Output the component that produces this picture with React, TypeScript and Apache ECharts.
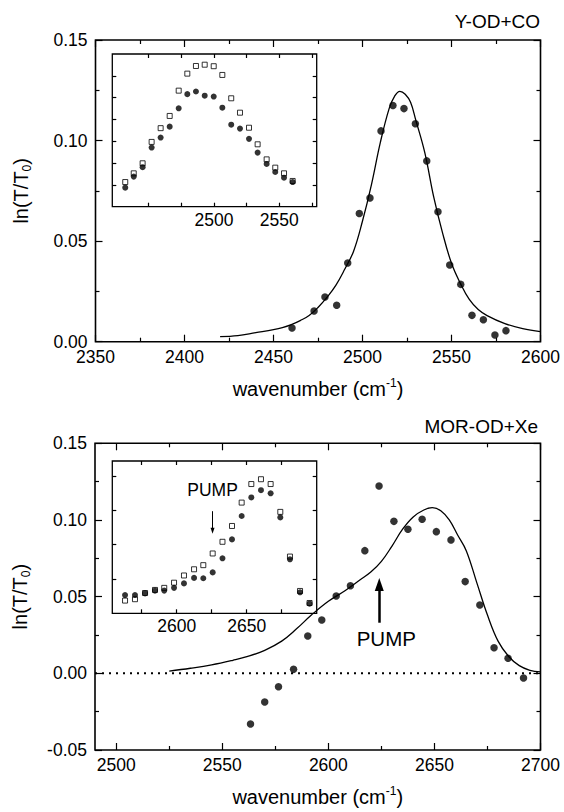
import React, { useEffect, useRef } from "react";
import * as echarts from "echarts";

// ---------- Top panel: Y-OD+CO ----------
const topWavenumbers = [2460.4, 2472.8, 2478.9, 2485.5, 2491.7, 2498.2, 2504.2, 2510.4, 2517.1, 2523.3, 2529.7, 2536.1, 2542.4, 2549.0, 2555.2, 2561.5, 2567.9, 2574.4, 2580.6];
const topValues = [0.0068, 0.0153, 0.0222, 0.0181, 0.0391, 0.0637, 0.0715, 0.1048, 0.1174, 0.1159, 0.1084, 0.0899, 0.0646, 0.0381, 0.0285, 0.0131, 0.0109, 0.0033, 0.0055];
const topFitWavenumbers = [2420, 2430, 2440, 2450, 2455, 2460, 2465, 2470, 2475, 2480, 2485, 2490, 2495, 2500, 2505, 2510, 2515, 2518, 2521, 2524, 2527, 2530, 2535, 2540, 2545, 2550, 2555, 2560, 2565, 2570, 2580, 2590, 2600];
const topFitValues = [0.0025, 0.003, 0.0045, 0.006, 0.007, 0.0085, 0.0105, 0.013, 0.017, 0.022, 0.028, 0.036, 0.045, 0.06, 0.078, 0.099, 0.116, 0.122, 0.1245, 0.123, 0.119, 0.11, 0.094, 0.072, 0.054, 0.039, 0.029, 0.021, 0.016, 0.013, 0.009, 0.0065, 0.005];

// top inset (open squares / filled circles)
const topInsetWavenumbers = [2432.1, 2438.6, 2445.4, 2452.3, 2459.2, 2466.1, 2473.0, 2479.6, 2486.2, 2492.9, 2499.8, 2506.4, 2513.2, 2519.9, 2526.8, 2533.4, 2540.3, 2546.9, 2553.6, 2560.2];
const topInsetCircles = [0.87, 1.38, 1.81, 2.71, 3.17, 3.67, 4.51, 5.16, 5.28, 5.09, 5.05, 4.54, 3.76, 3.58, 3.11, 2.48, 1.96, 1.59, 1.33, 1.13];
const topInsetSquares = [1.13, 1.53, 1.99, 2.97, 3.6, 4.16, 5.32, 6.1, 6.45, 6.51, 6.44, 6.04, 4.97, 4.31, 3.62, 2.86, 2.17, 1.79, 1.53, 1.18];

// ---------- Bottom panel: MOR-OD+Xe ----------
const bottomWavenumbers = [2563.3, 2570.0, 2576.5, 2583.6, 2590.3, 2596.9, 2603.7, 2610.4, 2617.2, 2623.9, 2630.9, 2637.5, 2644.2, 2650.9, 2657.8, 2664.5, 2671.4, 2678.1, 2684.7, 2692.0];
const bottomValues = [-0.0331, -0.0187, -0.0087, 0.0026, 0.0243, 0.0348, 0.0504, 0.0571, 0.08, 0.1222, 0.0991, 0.0939, 0.1005, 0.0924, 0.087, 0.0598, 0.0446, 0.0167, 0.0098, -0.003];
const bottomFitWavenumbers = [2525, 2535, 2545, 2555, 2562, 2570, 2578, 2585, 2592, 2600, 2608, 2615, 2620, 2625, 2630, 2635, 2640, 2645, 2649, 2653, 2657, 2661, 2665, 2670, 2675, 2680, 2685, 2690, 2695, 2700];
const bottomFitValues = [0.0015, 0.0033, 0.0055, 0.0085, 0.011, 0.015, 0.021, 0.029, 0.038, 0.047, 0.054, 0.061, 0.066, 0.073, 0.083, 0.094, 0.102, 0.1065, 0.108, 0.106, 0.1, 0.09, 0.08, 0.059, 0.038, 0.021, 0.011, 0.005, 0.002, 0.001];
const zeroLineWavenumbers = [2490, 2700];
const zeroLineValues = [0, 0];
const pumpWavenumber = 2624;
const pumpArrowFrom = 0.033;
const pumpArrowTo = 0.058;

// bottom inset
const bottomInsetWavenumbers = [2563.1, 2570.2, 2577.4, 2584.5, 2591.1, 2598.1, 2605.2, 2612.4, 2619.0, 2625.7, 2632.7, 2639.5, 2646.4, 2653.3, 2660.2, 2667.1, 2674.0, 2680.9, 2688.1, 2694.9];
const bottomInsetCircles = [0.53, 0.53, 0.58, 0.66, 0.66, 0.74, 0.87, 1.03, 1.02, 1.19, 1.6, 2.15, 2.83, 3.37, 3.58, 3.49, 2.79, 1.57, 0.61, 0.28];
const bottomInsetSquares = [0.37, 0.41, 0.59, 0.68, 0.74, 0.89, 1.1, 1.28, 1.4, 1.74, 2.08, 2.54, 3.22, 3.76, 3.9, 3.76, 2.95, 1.65, 0.65, 0.3];
const insetPumpWavenumber = 2625.6;
const insetPumpFrom = 2.97;
const insetPumpTo = 2.4;

// ---------- ticks & labels ----------
const topXMajor = [2350, 2400, 2450, 2500, 2550, 2600];
const topXMinor = [2375, 2425, 2475, 2525, 2575];
const topYMajor = [0, 0.05, 0.1, 0.15];
const topYMinor = [0.025, 0.075, 0.125];
const topInsetXTicks = [2450, 2475, 2500, 2525, 2550, 2575];
const topInsetXLabels = [2500, 2550];
const topInsetYTicks = [1, 2, 3, 4, 5, 6];

const bottomXMajor = [2500, 2550, 2600, 2650, 2700];
const bottomXMinor = [2525, 2575, 2625, 2675];
const bottomYMajor = [-0.05, 0, 0.05, 0.1, 0.15];
const bottomYMinor = [-0.025, 0.025, 0.075, 0.125];
const bottomInsetXTicks = [2575, 2600, 2625, 2650, 2675];
const bottomInsetXLabels = [2600, 2650];
const bottomInsetYTicks = [1, 2, 3, 4];

const FONT = "'Liberation Sans', Arial, Helvetica, sans-serif";
const BLACK = "#000";

const zip = (xs: number[], ys: number[]) => xs.map((x, i) => [x, ys[i]]);

type SideOpts = {
  gridIndex: number;
  position: string;
  min: number;
  max: number;
  major: number[];
  minor: number[];
  majorLen: number;
  minorLen: number;
  labels?: number[];
  fmt?: (v: number) => string;
  margin?: number;
  fontSize?: number;
  lineHeight?: number;
  extra?: any;
};

function sideAxes(o: SideOpts) {
  const tickLine = { color: BLACK, width: 1.2 };
  const base = {
    type: "value",
    gridIndex: o.gridIndex,
    position: o.position,
    min: o.min,
    max: o.max,
    axisLine: { show: false, onZero: false },
    splitLine: { show: false },
    axisPointer: { show: false },
  };
  const out: any[] = [
    {
      ...base,
      axisTick: { show: true, inside: true, length: o.majorLen, customValues: o.major, lineStyle: tickLine },
      axisLabel: o.labels
        ? {
            show: true,
            customValues: o.labels,
            formatter: o.fmt,
            margin: o.margin,
            fontSize: o.fontSize,
            lineHeight: o.lineHeight,
            fontFamily: FONT,
            color: BLACK,
          }
        : { show: false },
      ...(o.extra || {}),
    },
  ];
  if (o.minor.length) {
    out.push({
      ...base,
      axisTick: { show: true, inside: true, length: o.minorLen, customValues: o.minor, lineStyle: tickLine },
      axisLabel: { show: false },
    });
  }
  return out;
}

const nameStyle = {
  fontSize: 20,
  fontFamily: FONT,
  color: BLACK,
  lineHeight: 24,
  rich: {
    sup: { fontSize: 12, lineHeight: 12, verticalAlign: "top", fontFamily: FONT, color: BLACK },
    sub: { fontSize: 12, lineHeight: 12, verticalAlign: "bottom", fontFamily: FONT, color: BLACK },
  },
};

function buildOption() {
  const xAxis: any[] = [];
  const yAxis: any[] = [];
  const addX = (o: SideOpts) => {
    const i = xAxis.length;
    xAxis.push(...sideAxes(o));
    return i;
  };
  const addY = (o: SideOpts) => {
    const i = yAxis.length;
    yAxis.push(...sideAxes(o));
    return i;
  };
  const fmtX = (v: number) => String(v);
  const fmtY = (v: number) => v.toFixed(2);
  const xName = {
    name: "wavenumber (cm{sup|-1})",
    nameLocation: "middle",
    nameGap: 35,
    nameTextStyle: nameStyle,
  };
  const yName = {
    name: "ln(T/T{sub|0})",
    nameLocation: "middle",
    nameGap: 63,
    nameRotate: 90,
    nameTextStyle: nameStyle,
  };

  // grid 0: top main
  const tX = addX({ gridIndex: 0, position: "bottom", min: 2350, max: 2600, major: topXMajor, minor: topXMinor, majorLen: 7, minorLen: 4, labels: topXMajor, fmt: fmtX, margin: 7, fontSize: 17.5, lineHeight: 16, extra: xName });
  addX({ gridIndex: 0, position: "top", min: 2350, max: 2600, major: topXMajor, minor: topXMinor, majorLen: 7, minorLen: 4 });
  const tY = addY({ gridIndex: 0, position: "left", min: 0, max: 0.15, major: topYMajor, minor: topYMinor, majorLen: 7, minorLen: 4, labels: topYMajor, fmt: fmtY, margin: 8, fontSize: 17.5, lineHeight: 12, extra: yName });
  addY({ gridIndex: 0, position: "right", min: 0, max: 0.15, major: topYMajor, minor: topYMinor, majorLen: 7, minorLen: 4 });

  // grid 1: top inset
  const tiX = addX({ gridIndex: 1, position: "bottom", min: 2422.2, max: 2578.6, major: topInsetXTicks, minor: [], majorLen: 4, minorLen: 0, labels: topInsetXLabels, fmt: fmtX, margin: 4, fontSize: 17.5 });
  addX({ gridIndex: 1, position: "top", min: 2422.2, max: 2578.6, major: topInsetXTicks, minor: [], majorLen: 4, minorLen: 0 });
  const tiY = addY({ gridIndex: 1, position: "left", min: 0, max: 7, major: topInsetYTicks, minor: [], majorLen: 4, minorLen: 0 });
  addY({ gridIndex: 1, position: "right", min: 0, max: 7, major: topInsetYTicks, minor: [], majorLen: 4, minorLen: 0 });

  // grid 2: bottom main
  const bX = addX({ gridIndex: 2, position: "bottom", min: 2490, max: 2700, major: bottomXMajor, minor: bottomXMinor, majorLen: 7, minorLen: 4, labels: bottomXMajor, fmt: fmtX, margin: 7, fontSize: 17.5, lineHeight: 16, extra: xName });
  addX({ gridIndex: 2, position: "top", min: 2490, max: 2700, major: bottomXMajor, minor: bottomXMinor, majorLen: 7, minorLen: 4 });
  const bY = addY({ gridIndex: 2, position: "left", min: -0.05, max: 0.15, major: bottomYMajor, minor: bottomYMinor, majorLen: 7, minorLen: 4, labels: bottomYMajor, fmt: fmtY, margin: 8, fontSize: 17.5, lineHeight: 12, extra: yName });
  addY({ gridIndex: 2, position: "right", min: -0.05, max: 0.15, major: bottomYMajor, minor: bottomYMinor, majorLen: 7, minorLen: 4 });

  // grid 3: bottom inset
  const biX = addX({ gridIndex: 3, position: "bottom", min: 2554, max: 2700, major: bottomInsetXTicks, minor: [], majorLen: 4, minorLen: 0, labels: bottomInsetXLabels, fmt: fmtX, margin: 4, fontSize: 17.5 });
  addX({ gridIndex: 3, position: "top", min: 2554, max: 2700, major: bottomInsetXTicks, minor: [], majorLen: 4, minorLen: 0 });
  const biY = addY({ gridIndex: 3, position: "left", min: 0, max: 4.43, major: bottomInsetYTicks, minor: [], majorLen: 4, minorLen: 0 });
  addY({ gridIndex: 3, position: "right", min: 0, max: 4.43, major: bottomInsetYTicks, minor: [], majorLen: 4, minorLen: 0 });

  const gridBase = { show: true, borderColor: BLACK, containLabel: false };

  const circle = (size: number) => ({ type: "scatter", symbol: "circle", symbolSize: size, itemStyle: { color: BLACK }, silent: true });
  const square = (size: number) => ({ type: "scatter", symbol: "rect", symbolSize: size, itemStyle: { color: "#fff", borderColor: BLACK, borderWidth: 1 }, silent: true });
  const fitLine = { type: "line", symbol: "none", showSymbol: false, smooth: 0.4, lineStyle: { color: BLACK, width: 1.3 }, silent: true };

  return {
    animation: false,
    backgroundColor: "#fff",
    textStyle: { fontFamily: FONT },
    grid: [
      { ...gridBase, left: 95.5, top: 40, width: 445, height: 301.7, borderWidth: 1.6 },
      { ...gridBase, left: 112.3, top: 54, width: 204.4, height: 152.7, borderWidth: 1.3, backgroundColor: "#fff" },
      { ...gridBase, left: 95, top: 443.3, width: 445.5, height: 306.7, borderWidth: 1.6 },
      { ...gridBase, left: 112.3, top: 461, width: 204.4, height: 152.3, borderWidth: 1.3, backgroundColor: "#fff" },
    ],
    xAxis,
    yAxis,
    graphic: [
      { type: "text", right: 24, top: 12, style: { text: "Y-OD+CO", font: `19px ${FONT}`, fill: BLACK } },
      { type: "text", right: 26, top: 417, style: { text: "MOR-OD+Xe", font: `19px ${FONT}`, fill: BLACK } },
    ],
    series: [
      { ...fitLine, xAxisIndex: tX, yAxisIndex: tY, data: zip(topFitWavenumbers, topFitValues) },
      { ...circle(7.5), xAxisIndex: tX, yAxisIndex: tY, data: zip(topWavenumbers, topValues) },
      { ...square(5), xAxisIndex: tiX, yAxisIndex: tiY, data: zip(topInsetWavenumbers, topInsetSquares) },
      { ...circle(6), xAxisIndex: tiX, yAxisIndex: tiY, data: zip(topInsetWavenumbers, topInsetCircles) },
      {
        type: "line",
        symbol: "none",
        showSymbol: false,
        silent: true,
        xAxisIndex: bX,
        yAxisIndex: bY,
        lineStyle: { color: BLACK, width: 2, type: [2, 5] },
        data: zip(zeroLineWavenumbers, zeroLineValues),
      },
      { ...fitLine, xAxisIndex: bX, yAxisIndex: bY, data: zip(bottomFitWavenumbers, bottomFitValues) },
      {
        ...circle(7.5),
        xAxisIndex: bX,
        yAxisIndex: bY,
        data: zip(bottomWavenumbers, bottomValues),
        markLine: {
          silent: true,
          animation: false,
          symbol: ["none", "triangle"],
          symbolSize: [9, 13],
          lineStyle: { color: BLACK, width: 2.5, type: "solid" },
          label: { show: true, position: "start", formatter: "PUMP", fontSize: 20.5, fontFamily: FONT, color: BLACK, distance: 5, padding: [0, 0, 0, 14] },
          emphasis: { disabled: true },
          data: [[{ coord: [pumpWavenumber, pumpArrowFrom] }, { coord: [pumpWavenumber, pumpArrowTo] }]],
        },
      },
      { ...square(5), xAxisIndex: biX, yAxisIndex: biY, data: zip(bottomInsetWavenumbers, bottomInsetSquares) },
      {
        ...circle(6),
        xAxisIndex: biX,
        yAxisIndex: biY,
        data: zip(bottomInsetWavenumbers, bottomInsetCircles),
        markLine: {
          silent: true,
          animation: false,
          symbol: ["none", "triangle"],
          symbolSize: [4, 6],
          lineStyle: { color: BLACK, width: 1, type: "solid" },
          label: { show: true, position: "start", formatter: "PUMP", fontSize: 17.5, fontFamily: FONT, color: BLACK, distance: 12 },
          emphasis: { disabled: true },
          data: [[{ coord: [insetPumpWavenumber, insetPumpFrom] }, { coord: [insetPumpWavenumber, insetPumpTo] }]],
        },
      },
    ],
  };
}

export default function App() {
  const ref = useRef<HTMLDivElement>(null);
  useEffect(() => {
    if (!ref.current) return;
    const chart = echarts.init(ref.current, undefined, { renderer: "svg" });
    chart.setOption(buildOption() as any);
    return () => chart.dispose();
  }, []);
  return (
    <div
      ref={ref}
      style={{ position: "absolute", left: 0, top: 0, width: 564, height: 812, background: "#fff" }}
    />
  );
}
